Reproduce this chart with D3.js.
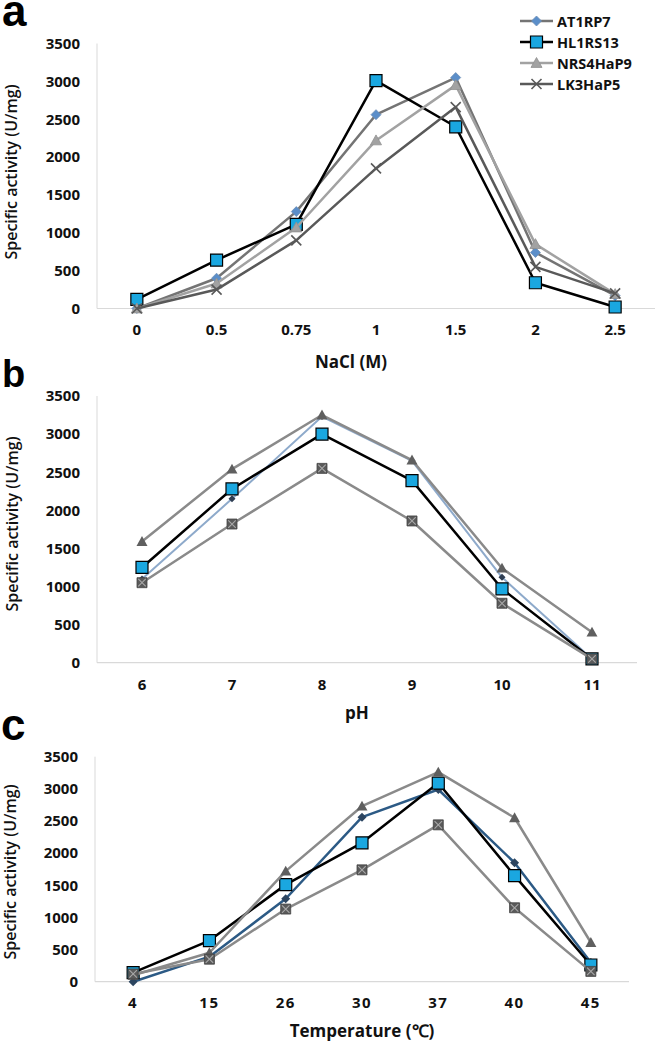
<!DOCTYPE html>
<html><head><meta charset="utf-8">
<script src="https://cdn.jsdelivr.net/npm/d3@7"></script>
<style>
html,body{margin:0;padding:0;background:#fff;}
svg{display:block;}
</style></head>
<body>
<svg id="chart" width="657" height="1047"></svg>
<script>
// ---------- DATA ----------
const seriesNames = ["AT1RP7", "HL1RS13", "NRS4HaP9", "LK3HaP5"];
const yTicks = [0, 500, 1000, 1500, 2000, 2500, 3000, 3500];

// Panel a: NaCl (M)
const naclCats = ["0", "0.5", "0.75", "1", "1.5", "2", "2.5"];
const naclAT1RP7   = [0, 400, 1280, 2560, 3050, 740, 170];
const naclHL1RS13  = [120, 640, 1110, 3010, 2400, 340, 20];
const naclNRS4HaP9 = [0, 330, 1070, 2220, 2950, 850, 190];
const naclLK3HaP5  = [0, 250, 900, 1850, 2660, 550, 200];

// Panel b: pH
const phCats = ["6", "7", "8", "9", "10", "11"];
const phAT1RP7   = [1100, 2150, 3230, 2650, 1120, 50];
const phHL1RS13  = [1250, 2280, 3000, 2390, 970, 50];
const phNRS4HaP9 = [1590, 2540, 3250, 2660, 1240, 400];
const phLK3HaP5  = [1050, 1820, 2550, 1860, 780, 50];

// Panel c: Temperature
const tempCats = ["4", "15", "26", "30", "37", "40", "45"];
const tempAT1RP7   = [0, 390, 1290, 2560, 2990, 1850, 300];
const tempHL1RS13  = [140, 640, 1510, 2160, 3090, 1650, 260];
const tempNRS4HaP9 = [100, 450, 1720, 2730, 3260, 2550, 610];
const tempLK3HaP5  = [120, 350, 1130, 1740, 2440, 1150, 160];

// ---------- MARKERS ----------
function diamondPath(s){const h=s/2;return `M0,${-h}L${h},0L0,${h}L${-h},0Z`;}
function squarePath(s){const h=s/2;return `M${-h},${-h}H${h}V${h}H${-h}Z`;}
function trianglePath(s){const h=s/2;return `M0,${-h}L${h},${h*0.8}L${-h},${h*0.8}Z`;}
function xPath(s){const h=s/2;return `M${-h},${-h}L${h},${h}M${h},${-h}L${-h},${h}`;}

function drawMarker(g, type, st){
  if(type==="diamond"){
    g.append("path").attr("d",diamondPath(st.size)).attr("fill",st.fill).attr("stroke",st.mstroke||"none").attr("stroke-width",st.msw||0.8);
  } else if(type==="square"){
    g.append("path").attr("d",squarePath(st.size)).attr("fill",st.fill).attr("stroke",st.mstroke).attr("stroke-width",st.msw||1.2);
  } else if(type==="triangle"){
    g.append("path").attr("d",trianglePath(st.size)).attr("fill",st.fill).attr("stroke",st.mstroke||"none").attr("stroke-width",st.msw||0.8);
  } else if(type==="x"){
    g.append("path").attr("d",xPath(st.size)).attr("fill","none").attr("stroke",st.mstroke).attr("stroke-width",st.msw||1.6);
  } else if(type==="xsquare"){
    g.append("path").attr("d",squarePath(st.size)).attr("fill",st.fill).attr("stroke",st.mstroke||"#444").attr("stroke-width",0.8);
    g.append("path").attr("d",xPath(st.size*0.75)).attr("fill","none").attr("stroke",st.xstroke||"#aaa").attr("stroke-width",1.1);
  }
}

const svg = d3.select("#chart");
const FONT = "'Open Sans', 'Liberation Sans', sans-serif";

function drawPanel(p){
  const x = d3.scaleBand().domain(p.cats).range([p.left, p.right]);
  const y = d3.scaleLinear().domain([0, 3500]).range([p.y0, p.y3500]);
  const g = svg.append("g");

  // axis lines (light gray)
  g.append("line").attr("x1",p.left).attr("x2",p.left).attr("y1",y(3500)).attr("y2",y(0))
    .attr("stroke","#d9d9d9").attr("stroke-width",1);
  g.append("line").attr("x1",p.left).attr("x2",p.right).attr("y1",y(0)).attr("y2",y(0))
    .attr("stroke","#d9d9d9").attr("stroke-width",1.2);

  // y axis ticks
  const ya = g.append("g").attr("transform",`translate(${p.left},0)`)
    .call(d3.axisLeft(y).tickValues(yTicks).tickSize(0).tickPadding(p.yPad).tickFormat(d3.format("d")));
  ya.select(".domain").remove();
  ya.selectAll("text").attr("font-family",FONT).attr("font-size",15).attr("font-weight",700).attr("fill","#111");

  // x axis ticks
  const xa = g.append("g").attr("transform",`translate(0,${y(0)})`)
    .call(d3.axisBottom(x).tickSize(0).tickPadding(p.xPad));
  xa.select(".domain").remove();
  xa.selectAll("text").attr("font-family",FONT).attr("font-size",15).attr("font-weight",700).attr("fill","#111")
    .attr("letter-spacing",p.ls||0);

  // titles
  g.append("text").attr("x",p.xtX).attr("y",p.xtY).attr("text-anchor","middle")
    .attr("font-family",FONT).attr("font-size",p.xtSize||17).attr("font-weight",700).attr("fill","#111").text(p.xTitle);
  g.append("text").attr("transform",`translate(${p.ytX},${p.ytY}) rotate(-90)`).attr("text-anchor","middle")
    .attr("dominant-baseline","central")
    .attr("font-family",FONT).attr("font-size",16).attr("font-weight",600).attr("fill","#111").text("Specific activity (U/mg)");
  g.append("text").attr("x",p.lbX).attr("y",p.lbY).attr("font-family","'Liberation Sans', Arial, sans-serif")
    .attr("font-size",p.lbSize).attr("font-weight",700).attr("fill","#000").text(p.letter);

  const cx = d => x(d) + x.bandwidth()/2;
  const line = d3.line().x((d,i)=>cx(p.cats[i])).y(d=>y(d));

  p.series.forEach(s=>{
    g.append("path").datum(s.values).attr("d",line).attr("fill","none")
      .attr("stroke",s.style.line).attr("stroke-width",s.style.lw||2.5).attr("stroke-linejoin","round");
    s.values.forEach((v,i)=>{
      const mg = g.append("g").attr("transform",`translate(${cx(p.cats[i])},${y(v)})`);
      drawMarker(mg, s.marker, s.style);
    });
  });
}

// ---------- STYLES ----------
const aStyles = {
  AT1RP7:   {marker:"diamond", style:{line:"#747474", fill:"#5b8ec9", mstroke:"#6f8fb5", size:10}},
  HL1RS13:  {marker:"square",  style:{line:"#000000", fill:"#1aa7e0", mstroke:"#000", size:12}},
  NRS4HaP9: {marker:"triangle",style:{line:"#a2a2a2", fill:"#a2a2a2", mstroke:"#909090", size:11}},
  LK3HaP5:  {marker:"x",       style:{line:"#595959", mstroke:"#595959", size:10, msw:1.6}}
};
const bcStylesB = {
  AT1RP7:   {marker:"diamond", style:{line:"#8eaacb", lw:2, fill:"#2e3d52", size:7}},
  HL1RS13:  {marker:"square",  style:{line:"#000000", fill:"#1aa7e0", mstroke:"#000", size:12}},
  NRS4HaP9: {marker:"triangle",style:{line:"#8a8a8a", fill:"#5f5f5f", size:11}},
  LK3HaP5:  {marker:"xsquare", style:{line:"#8a8a8a", fill:"#5a5a5a", mstroke:"#444", xstroke:"#a8a8a8", size:10}}
};
const bcStylesC = {
  AT1RP7:   {marker:"diamond", style:{line:"#2c5a85", fill:"#2c4560", size:9}},
  HL1RS13:  {marker:"square",  style:{line:"#000000", fill:"#1aa7e0", mstroke:"#000", size:12}},
  NRS4HaP9: {marker:"triangle",style:{line:"#8a8a8a", fill:"#5f5f5f", size:11}},
  LK3HaP5:  {marker:"xsquare", style:{line:"#8a8a8a", fill:"#5a5a5a", mstroke:"#444", xstroke:"#a8a8a8", size:10}}
};

function mk(styles, arrs){
  return seriesNames.map((n,i)=>({name:n, values:arrs[i], marker:styles[n].marker, style:styles[n].style}));
}

drawPanel({cats:naclCats, left:97, right:655, y0:308.5, y3500:43.5, yPad:17, xPad:16,
  xTitle:"NaCl (M)", xtX:351, xtY:368, ytX:11, ytY:172, letter:"a", lbX:2, lbY:26, lbSize:44,
  series: mk(aStyles,[naclAT1RP7,naclHL1RS13,naclNRS4HaP9,naclLK3HaP5])});

drawPanel({cats:phCats, left:97, right:637, y0:662.7, y3500:396, yPad:17, xPad:17,
  xTitle:"pH", xtX:357, xtY:719, ytX:12, ytY:524, letter:"b", lbX:2, lbY:387, lbSize:38,
  series: mk(bcStylesB,[phAT1RP7,phHL1RS13,phNRS4HaP9,phLK3HaP5])});

drawPanel({cats:tempCats, left:95, right:629, y0:981.7, y3500:756.7, yPad:17, xPad:16, ls:1.5,
  xTitle:"Temperature (\u2103)", xtX:362, xtY:1037, xtSize:17, ytX:10, ytY:872, letter:"c", lbX:1, lbY:740, lbSize:44,
  series: mk(bcStylesC,[tempAT1RP7,tempHL1RS13,tempNRS4HaP9,tempLK3HaP5])});

// ---------- LEGEND (panel a) ----------
const legY = [21, 42, 63, 84];
const leg = svg.append("g");
seriesNames.forEach((n,i)=>{
  const st = aStyles[n];
  const row = leg.append("g").attr("transform",`translate(0,${legY[i]})`);
  row.append("line").attr("x1",520).attr("x2",553).attr("y1",0).attr("y2",0)
    .attr("stroke",st.style.line).attr("stroke-width",2.5);
  const mg = row.append("g").attr("transform","translate(536.5,0)");
  drawMarker(mg, st.marker, st.style);
  row.append("text").attr("x",557).attr("y",0).attr("dominant-baseline","central")
    .attr("font-family",FONT).attr("font-size",14.5).attr("font-weight",700).attr("fill","#111").text(n);
});
</script>
</body></html>
